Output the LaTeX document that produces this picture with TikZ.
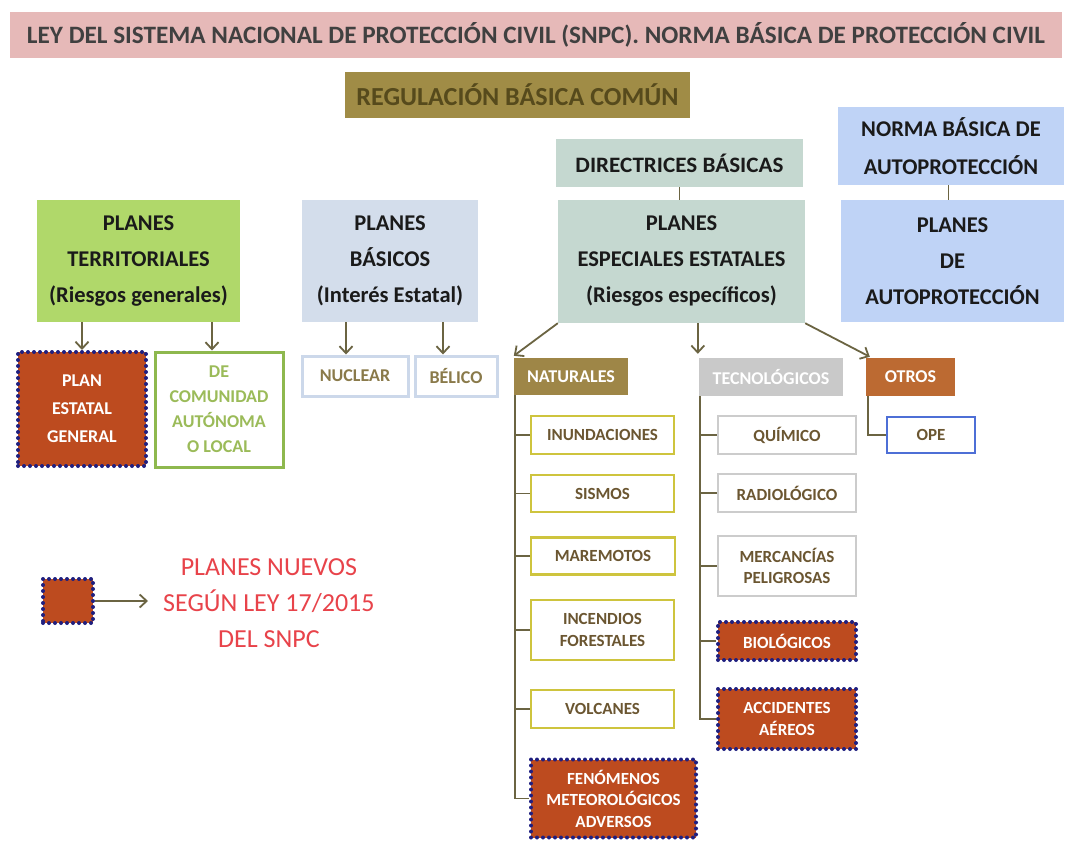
\documentclass[tikz,border=0pt]{standalone}
\usepackage{fontspec}
\setmainfont{Carlito}
\usetikzlibrary{arrows.meta}
\definecolor{pinkbar}{HTML}{E6B9B8}
\definecolor{gold}{HTML}{A08C46}
\definecolor{goldtxt}{HTML}{564A1C}
\definecolor{sage}{HTML}{C5D8D0}
\definecolor{skyb}{HTML}{BFD3F6}
\definecolor{lgreen}{HTML}{B0D86A}
\definecolor{lsteel}{HTML}{D3DDEB}
\definecolor{rust}{HTML}{BD4B1F}
\definecolor{navy}{HTML}{1F1F80}
\definecolor{grnb}{HTML}{8EB84E}
\definecolor{grnt}{HTML}{9BBB59}
\definecolor{natf}{HTML}{9E8647}
\definecolor{tecf}{HTML}{C9C9C9}
\definecolor{otrf}{HTML}{BC6A32}
\definecolor{opeb}{HTML}{4E6FD6}
\definecolor{yelb}{HTML}{CEC43E}
\definecolor{grayb}{HTML}{CCCCCC}
\definecolor{brn}{HTML}{6B5631}
\definecolor{olv}{HTML}{6B6442}
\definecolor{redt}{HTML}{E8434A}
\definecolor{ink}{HTML}{1A1A1A}
\definecolor{nucb}{HTML}{CCD8EA}
\definecolor{nuct}{HTML}{8A7A4A}
\newcommand\fitw[2]{\resizebox{#1}{\height}{#2}}
\begin{document}
\begin{tikzpicture}[x=1pt,y=-1pt,
  base/.style={inner sep=0pt, align=center, anchor=center},
  big/.style={base, font=\fontsize{22.5}{36}\selectfont\bfseries, text=ink},
  small/.style={base, font=\fontsize{17}{21.5}\selectfont\bfseries, text=brn, fill=white, line width=2.5pt},
  yel/.style={small, draw=yelb},
  gry/.style={small, draw=grayb},
  newplan/.style={base, fill=rust, draw=navy, line width=4pt, dash pattern=on 0pt off 6pt, line cap=round, text=white, font=\fontsize{17}{21.5}\selectfont\bfseries},
  cat/.style={base, text=white, font=\fontsize{18}{22}\selectfont\bfseries},
  conn/.style={draw=olv, line width=1.8pt},
  arr/.style={conn, -{Straight Barb[length=7pt,width=13pt]}}
]
\useasboundingbox[fill=white] (0,0) rectangle (1066,841);

% top
\node[base, fill=pinkbar, minimum width=1052, minimum height=46, text=black!75, font=\fontsize{25}{30}\selectfont\bfseries] (title) at (536,35)
  {\fitw{1018pt}{LEY DEL SISTEMA NACIONAL DE PROTECCIÓN CIVIL (SNPC). NORMA BÁSICA DE PROTECCIÓN CIVIL}};
\node[base, fill=gold, minimum width=345, minimum height=46, text=goldtxt, font=\fontsize{26}{30}\selectfont\bfseries] (reg) at (517.5,95)
  {\fitw{322pt}{REGULACIÓN BÁSICA COMÚN}};
\node[base, fill=sage, minimum width=247, minimum height=48, text=ink, font=\fontsize{22}{30}\selectfont\bfseries] (dir) at (679.5,163)
  {\fitw{208pt}{DIRECTRICES BÁSICAS}};
\node[base, fill=skyb, minimum width=226, minimum height=78, text=ink, font=\fontsize{22.5}{38}\selectfont\bfseries] (nor) at (951,146)
  {NORMA BÁSICA DE\\AUTOPROTECCIÓN};

% planes row
\node[big, fill=lgreen, minimum width=203, minimum height=122] (ter) at (138.5,261)
  {PLANES\\TERRITORIALES\\(Riesgos generales)};
\node[big, fill=lsteel, minimum width=176, minimum height=122] (bas) at (390,261)
  {PLANES\\BÁSICOS\\(Interés Estatal)};
\node[big, fill=sage, minimum width=247, minimum height=123] (esp) at (681.5,261.5)
  {PLANES\\ESPECIALES ESTATALES\\(Riesgos específicos)};
\node[big, fill=skyb, minimum width=223, minimum height=122] (aut) at (952.5,261)
  {PLANES\\DE\\AUTOPROTECCIÓN};

\draw[conn] (dir) -- (dir |- esp.north);
\draw[conn] (nor.south -| aut.north) ++(-4,0) coordinate (nortop) -- (nortop |- aut.north);

% territoriales children
\node[newplan, minimum width=128, minimum height=114, font=\fontsize{18}{28}\selectfont\bfseries] (pe) at (82,409)
  {PLAN\\ESTATAL\\GENERAL};
\node[base, fill=white, draw=grnb, line width=3pt, minimum width=128, minimum height=115, text=grnt, font=\fontsize{18}{25}\selectfont\bfseries] (com) at (219,409.5)
  {DE\\COMUNIDAD\\AUTÓNOMA\\O LOCAL};
\draw[arr] (ter.south -| pe.north) -- (pe.north);
\coordinate (comin) at ([xshift=-7pt]com.north);
\draw[arr] (ter.south -| comin) -- (comin);

% basicos children
\node[base, fill=white, draw=nucb, line width=3pt, minimum width=106, minimum height=40, text=nuct, font=\fontsize{18}{22}\selectfont\bfseries] (nuc) at (355,376) {NUCLEAR};
\node[base, fill=white, draw=nucb, line width=3pt, minimum width=82, minimum height=40, text=nuct, font=\fontsize{18}{22}\selectfont\bfseries] (bel) at (456,376) {BÉLICO};
\coordinate (nucin) at ([xshift=-9pt]nuc.north);
\coordinate (belin) at ([xshift=-13pt]bel.north);
\draw[arr] (bas.south -| nucin) -- (nucin);
\draw[arr] (bas.south -| belin) -- (belin);

% especiales categories
\node[cat, fill=natf, minimum width=114, minimum height=37] (nat) at (571,376.5) {NATURALES};
\node[cat, fill=tecf, minimum width=144, minimum height=38] (tec) at (771,377) {TECNOLÓGICOS};
\node[cat, fill=otrf, minimum width=89, minimum height=38] (otr) at (910.5,377) {OTROS};
\draw[arr] (esp.south west) -- ([yshift=2pt]nat.north west);
\coordinate (tecin) at ([xshift=-1pt,yshift=4pt]tec.north west);
\draw[arr] (esp.south -| tecin) -- (tecin);
\draw[arr] (esp.south east) -- ([xshift=4pt,yshift=1pt]otr.north west);

% naturales
\node[yel, minimum width=143, minimum height=38] (inu) at (602.5,435) {INUNDACIONES};
\node[yel, minimum width=143, minimum height=37] (sis) at (602.5,493.5) {SISMOS};
\node[yel, minimum width=144, minimum height=37] (mar) at (603,556) {MAREMOTOS};
\node[yel, minimum width=143, minimum height=60] (inc) at (602.5,630) {INCENDIOS\\FORESTALES};
\node[yel, minimum width=143, minimum height=38] (vol) at (602.5,709) {VOLCANES};
\node[newplan, minimum width=165, minimum height=78] (fen) at (613.5,798.5) {FENÓMENOS\\METEOROLÓGICOS\\ADVERSOS};
\coordinate (natsp) at ([xshift=1pt]nat.south west);
\draw[conn] (natsp) |- (fen.west);
\foreach \n in {inu,sis,mar,inc,vol} \draw[conn] (natsp |- \n.west) -- (\n.west);

% tecnologicos
\node[gry, minimum width=138, minimum height=38] (qui) at (787,435) {QUÍMICO};
\node[gry, minimum width=138, minimum height=38] (rad) at (787,493) {RADIOLÓGICO};
\node[gry, minimum width=138, minimum height=60] (mer) at (787,566) {MERCANCÍAS\\PELIGROSAS};
\node[newplan, minimum width=138, minimum height=38] (bio) at (787,641) {BIOLÓGICOS};
\node[newplan, minimum width=138, minimum height=60] (acc) at (787,719) {ACCIDENTES\\AÉREOS};
\coordinate (tecsp) at ([xshift=1pt]tec.south west);
\draw[conn] (tecsp) |- (acc.west);
\foreach \n in {qui,rad,mer,bio} \draw[conn] (tecsp |- \n.west) -- (\n.west);

% otros
\node[small, draw=opeb, minimum width=88, minimum height=36] (ope) at (931,435) {OPE};
\coordinate (otrsp) at ([xshift=2pt]otr.south west);
\draw[conn] (otrsp) |- (ope.west);

% legend
\node[newplan, minimum width=50, minimum height=44] (lg) at (68,601) {};
\node[base, text=redt, font=\fontsize{26}{36}\selectfont, anchor=west, inner xsep=0pt] (lgt) at (163,603)
  {PLANES NUEVOS\\SEGÚN LEY 17/2015\\DEL SNPC};
\draw[arr] (lg.east) -- ([xshift=-15pt]lgt.west |- lg.east);
\end{tikzpicture}
\end{document}
